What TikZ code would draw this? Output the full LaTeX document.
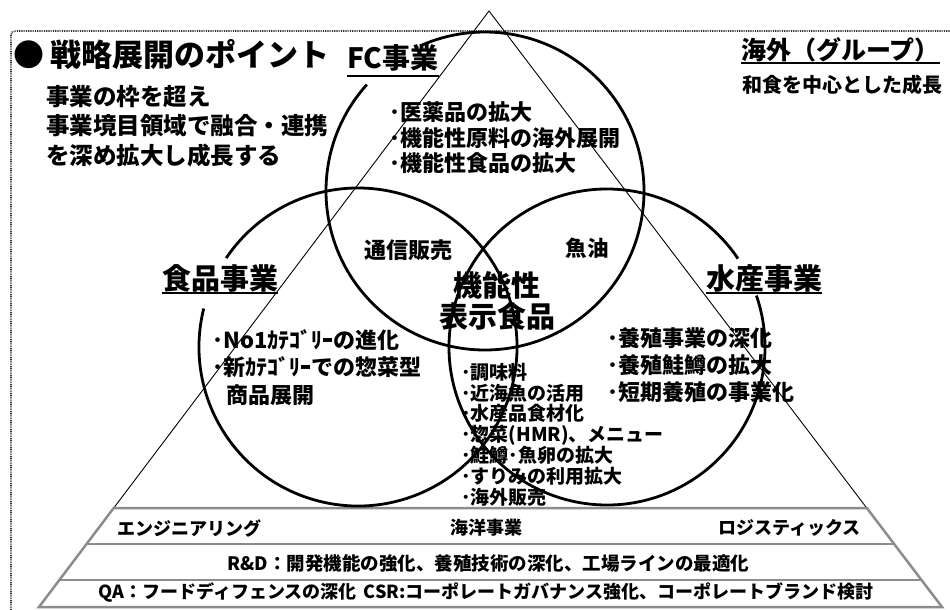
\documentclass[tikz,border=0pt]{standalone}
\usepackage{fontspec}
\setmainfont{Noto Sans CJK JP}
\newcommand\myfs[1]{\fontsize{#1}{#1}\selectfont}
\definecolor{bandgray}{HTML}{8C8C8C}
\definecolor{framegray}{HTML}{333333}
\begin{document}
\begin{tikzpicture}[x=1pt,y=1pt,
  ln/.style={anchor=base west, inner sep=0pt},
  lbl/.style={anchor=center, inner sep=0pt},
  ring/.style={line width=2.8pt, black},
  tri/.style={line width=0.9pt, black},
  band/.style={line width=2.5pt, bandgray},
  uline/.style={line width=2pt, black},
  framestyle/.style={line width=1.6pt, framegray, dash pattern=on 0.9pt off 0.9pt},
  bul/.style={ln, font=\myfs{22}\bfseries},
  cbul/.style={ln, font=\myfs{19}\bfseries},
  bandtext/.style={inner sep=0pt, font=\myfs{18}\bfseries}]
\useasboundingbox (0,0) rectangle (950,-610);

% dotted frame
\draw[framestyle, rounded corners=4pt] (11,-610) -- (11,-31) -- (950,-31);

% triangle
\coordinate (apex) at (489,-11);
\coordinate (bl) at (39,-607);
\coordinate (br) at (942,-607);
\draw[tri] (bl) -- (apex) -- (br);

% bands
\coordinate (b1l) at (113.7,-508);
\coordinate (b1r) at (866.8,-508);
\coordinate (b2l) at (86.6,-544);
\coordinate (b2r) at (894.1,-544);
\coordinate (b3l) at (59.4,-580);
\coordinate (b3r) at (921.5,-580);
\draw[band] (b1l) -- (b1r) -- (br) -- (bl) -- cycle;
\draw[band] (b2l) -- (b2r);
\draw[band] (b3l) -- (b3r);

% circles
\coordinate (cfc) at (485,-191);
\coordinate (cfood) at (358,-347);
\coordinate (cfish) at (607,-347);
\draw[ring] (cfc) ++(138:159) arc[start angle=138, end angle=474, radius=159];
\draw[ring] (cfood) ++(166:159) arc[start angle=166, end angle=506, radius=159];
\draw[ring] (cfish) ++(34:158) arc[start angle=34, end angle=379, radius=158];

% title and heading texts
\node[ln, font=\myfs{31}\bfseries] (title) at (13,-66.8) {●\hspace{6pt}戦略展開のポイント};
\node[ln, font=\myfs{23.5}\bfseries] (s1) at (46,-105.9) {事業の枠を超え};
\node[ln, font=\myfs{23.5}\bfseries] (s2) at (46,-134.9) {事業境目領域で融合・連携};
\node[ln, font=\myfs{23.5}\bfseries] (s3) at (46,-164.9) {を深め拡大し成長する};

\node[ln, font=\myfs{28}\bfseries] (fct) at (347,-68.5) {FC事業};
\draw[uline] ([yshift=-7.5pt]fct.base west) -- ([yshift=-7.5pt]fct.base east);

\node[ln, font=\myfs{29}\bfseries] (foodt) at (162,-289) {食品事業};
\draw[uline] ([yshift=-4pt]foodt.base west) -- ([yshift=-4pt]foodt.base east);

\node[ln, font=\myfs{29}\bfseries] (fisht) at (706,-289) {水産事業};
\draw[uline] ([yshift=-4pt]fisht.base west) -- ([yshift=-4pt]fisht.base east);

\node[ln, font=\myfs{25}\bfseries] (kaigai) at (741,-59.5) {海外（グループ）};
\draw[uline] ([yshift=-3.5pt]kaigai.base west) -- ([yshift=-3.5pt]kaigai.base east);
\node[ln, font=\myfs{20}\bfseries] (washoku) at (742,-92.6) {和食を中心とした成長};

% FC bullets
\node[bul] (fc1) at (389,-120.4) {･医薬品の拡大};
\node[bul] (fc2) at (389,-146.4) {･機能性原料の海外展開};
\node[bul] (fc3) at (389,-171.9) {･機能性食品の拡大};

% overlaps
\node[lbl, font=\myfs{22}\bfseries] (tsushin) at (408,-250) {通信販売};
\node[lbl, font=\myfs{21.5}\bfseries] (gyoyu) at (587,-248) {魚油};
\node[lbl, font=\myfs{29}\bfseries] (kino1) at (497,-285) {機能性};
\node[lbl, font=\myfs{29}\bfseries] (kino2) at (497,-316) {表示食品};

% food bullets
\node[bul] (fd1) at (212,-348.4) {･No1ｶﾃｺﾞﾘｰの進化};
\node[bul] (fd2) at (212,-375.4) {･新ｶﾃｺﾞﾘｰでの惣菜型};
\node[bul] (fd3) at (226,-403.4) {商品展開};

% fish bullets
\node[bul] (fs1) at (607,-346.4) {･養殖事業の深化};
\node[bul] (fs2) at (607,-373.4) {･養殖鮭鱒の拡大};
\node[bul] (fs3) at (607,-400.4) {･短期養殖の事業化};

% centre bullets
\node[cbul] (c1) at (461,-379.2) {･調味料};
\node[cbul] (c2) at (461,-400.0) {･近海魚の活用};
\node[cbul] (c3) at (461,-420.8) {･水産品食材化};
\node[cbul] (c4) at (461,-441.6) {･惣菜(HMR)、メニュー};
\node[cbul] (c5) at (461,-462.4) {･鮭鱒･魚卵の拡大};
\node[cbul] (c6) at (461,-483.2) {･すりみの利用拡大};
\node[cbul] (c7) at (461,-504.0) {･海外販売};

% band texts
\node[bandtext, anchor=west] (eng) at (117,-528) {エンジニアリング};
\node[bandtext] (kaiyo) at (486,-528) {海洋事業};
\node[bandtext, anchor=east] (logi) at (861,-528) {ロジスティックス};
\node[bandtext, font=\myfs{18.5}\bfseries] (rd) at (488.5,-563) {R\&D：開発機能の強化、養殖技術の深化、工場ラインの最適化};
\node[bandtext] (qa) at (486,-592.5) {QA：フードディフェンスの深化\hspace{0.4em}CSR:コーポレートガバナンス強化、コーポレートブランド検討};
\end{tikzpicture}
\end{document}
